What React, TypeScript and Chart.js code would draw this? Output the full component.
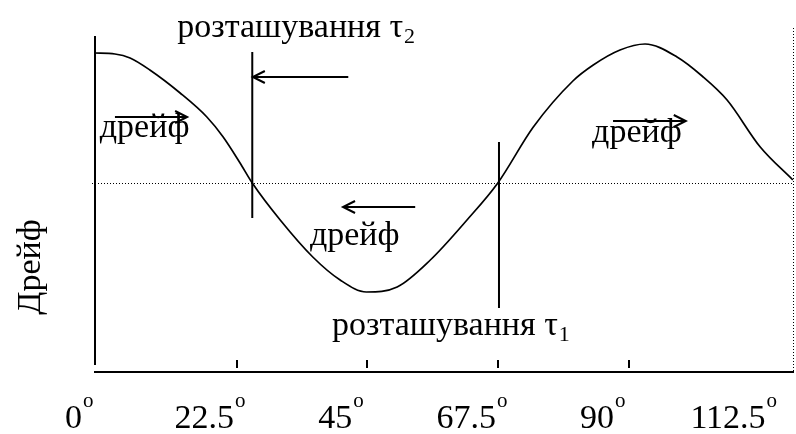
import React, { useEffect, useRef } from "react";
import { Chart, registerables } from "chart.js";

Chart.register(...registerables);

// ---- data ----
const curveX = [-2, 1.6, 4.2, 7.6, 12.8, 17.4, 20.2, 23.1, 25.2, 30.0, 35.6, 40.3, 44.8, 50.1, 55.8, 62.1, 67.4, 73.5, 80.3, 83.8, 88.4, 92.7, 98.2, 102.5, 106.8, 112.5, 118.1];
const curveY = [1.30, 1.29, 1.25, 1.13, 0.90, 0.66, 0.46, 0.20, 0.00, -0.37, -0.74, -0.97, -1.09, -1.04, -0.77, -0.37, 0.0, 0.56, 1.02, 1.18, 1.33, 1.39, 1.26, 1.07, 0.83, 0.36, 0.03];

const tau2X = [25.2, 25.2];
const tau2Y = [1.31, -0.35];
const tau1X = [67.6, 67.6];
const tau1Y = [0.41, -1.25];

const xTickValues = [0, 22.5, 45, 67.5, 90, 112.5];
const xTickLabels = ["0", "22.5", "45", "67.5", "90", "112.5"];
const xTickMarks = [22.5, 45, 67.5, 90];

const yTitle = "Дрейф";

// arrows: [x from, x to, y]
const arrowFromX = [41.7, 1.6, 53.2, 87.2];
const arrowToX = [25.3, 14.0, 40.8, 99.7];
const arrowY = [1.06, 0.66, -0.24, 0.62];

// annotation texts
const noteTexts = ["розташування τ", "розташування τ", "дрейф", "дрейф", "дрейф"];
const noteSubs = ["2", "1", "", "", ""];
const noteX = [12.3, 38.9, -1.0, 35.1, 83.6];
const noteY = [1.46, -1.52, 0.46, -0.62, 0.41];

const X_MIN = -2;
const X_MAX = 118.3;
const Y_MIN = -1.89;
const Y_MAX = 1.55;

const FONT = "'Liberation Serif', 'Times New Roman', serif";

const figurePlugin = {
  id: "figure",
  beforeDatasetsDraw(chart: any) {
    const { ctx, chartArea: a, scales } = chart;
    const x = scales.x;
    const y = scales.y;
    ctx.save();
    ctx.strokeStyle = "#000";
    // zero dotted line
    ctx.lineWidth = 1;
    ctx.setLineDash([1, 2]);
    const y0 = Math.round(y.getPixelForValue(0)) + 0.5;
    ctx.beginPath();
    ctx.moveTo(a.left - 2, y0);
    ctx.lineTo(a.right, y0);
    ctx.stroke();
    // right dotted frame line
    ctx.beginPath();
    ctx.moveTo(a.right - 0.5, a.top);
    ctx.lineTo(a.right - 0.5, a.bottom);
    ctx.stroke();
    ctx.setLineDash([]);
    // left axis
    ctx.lineWidth = 2;
    ctx.beginPath();
    ctx.moveTo(a.left + 1, a.top + 8);
    ctx.lineTo(a.left + 1, a.bottom - 7);
    ctx.stroke();
    // bottom axis
    ctx.beginPath();
    ctx.moveTo(a.left, a.bottom);
    ctx.lineTo(a.right, a.bottom);
    ctx.stroke();
    // tick marks (inside)
    xTickMarks.forEach((v) => {
      const px = Math.round(x.getPixelForValue(v));
      ctx.beginPath();
      ctx.moveTo(px, a.bottom - 12);
      ctx.lineTo(px, a.bottom - 4);
      ctx.stroke();
    });
    ctx.restore();
  },
  afterDatasetsDraw(chart: any) {
    const { ctx, chartArea: a, scales } = chart;
    const x = scales.x;
    const y = scales.y;
    ctx.save();
    ctx.fillStyle = "#000";
    ctx.strokeStyle = "#000";

    // arrows
    ctx.lineWidth = 2;
    arrowFromX.forEach((fx, i) => {
      const x1 = x.getPixelForValue(fx);
      const x2 = x.getPixelForValue(arrowToX[i]);
      const py = Math.round(y.getPixelForValue(arrowY[i]));
      const dir = x2 > x1 ? 1 : -1;
      ctx.beginPath();
      ctx.moveTo(x1, py);
      ctx.lineTo(x2, py);
      ctx.stroke();
      ctx.beginPath();
      ctx.moveTo(x2 - dir * 12, py - 6);
      ctx.lineTo(x2, py);
      ctx.lineTo(x2 - dir * 12, py + 6);
      ctx.stroke();
    });

    // texts
    ctx.textBaseline = "alphabetic";
    ctx.textAlign = "left";
    noteTexts.forEach((t, i) => {
      const px = x.getPixelForValue(noteX[i]);
      const py = y.getPixelForValue(noteY[i]);
      ctx.font = `34px ${FONT}`;
      ctx.fillText(t, px, py);
      if (noteSubs[i]) {
        const w = ctx.measureText(t).width;
        ctx.font = `22px ${FONT}`;
        ctx.fillText(noteSubs[i], px + w + 1, py + 6);
      }
    });

    // x tick labels with superscript degree "o"
    xTickValues.forEach((v, i) => {
      const px = x.getPixelForValue(v);
      ctx.font = `34px ${FONT}`;
      const wn = ctx.measureText(xTickLabels[i]).width;
      ctx.font = `21px ${FONT}`;
      const wo = ctx.measureText("o").width;
      const left = px - 27 - (wn + wo) / 2;
      ctx.font = `34px ${FONT}`;
      ctx.fillText(xTickLabels[i], left, a.bottom + 56);
      ctx.font = `21px ${FONT}`;
      ctx.fillText("o", left + wn + 1, a.bottom + 35);
    });

    // y title
    ctx.save();
    ctx.translate(31, y.getPixelForValue(-0.84));
    ctx.rotate(-Math.PI / 2);
    ctx.textAlign = "center";
    ctx.textBaseline = "middle";
    ctx.font = `34px ${FONT}`;
    ctx.fillText(yTitle, 0, 0);
    ctx.restore();

    ctx.restore();
  },
};

export default function App() {
  const ref = useRef<HTMLCanvasElement | null>(null);
  useEffect(() => {
    if (!ref.current) return;
    const pts = (xs: number[], ys: number[]) => xs.map((v, i) => ({ x: v, y: ys[i] }));
    const chart = new Chart(ref.current, {
      type: "line",
      data: {
        datasets: [
          {
            label: "Дрейф",
            data: pts(curveX, curveY),
            borderColor: "#000",
            borderWidth: 1.7,
            pointRadius: 0,
            cubicInterpolationMode: "monotone",
            fill: false,
          },
          {
            label: "τ2",
            data: pts(tau2X, tau2Y),
            borderColor: "#000",
            borderWidth: 2,
            pointRadius: 0,
            fill: false,
          },
          {
            label: "τ1",
            data: pts(tau1X, tau1Y),
            borderColor: "#000",
            borderWidth: 2,
            pointRadius: 0,
            fill: false,
          },
        ],
      },
      options: {
        responsive: false,
        animation: false,
        events: [],
        layout: { padding: { left: 94, right: 2, top: 28, bottom: 62 } },
        scales: {
          x: { type: "linear", min: X_MIN, max: X_MAX, display: false },
          y: { type: "linear", min: Y_MIN, max: Y_MAX, display: false },
        },
        plugins: { legend: { display: false }, tooltip: { enabled: false } },
      },
      plugins: [figurePlugin],
    } as any);
    return () => chart.destroy();
  }, []);
  return (
    <div style={{ position: "fixed", left: 0, top: 0, width: 796, height: 434, background: "#fff" }}>
      <canvas ref={ref} width={796} height={434} style={{ display: "block" }} />
    </div>
  );
}
